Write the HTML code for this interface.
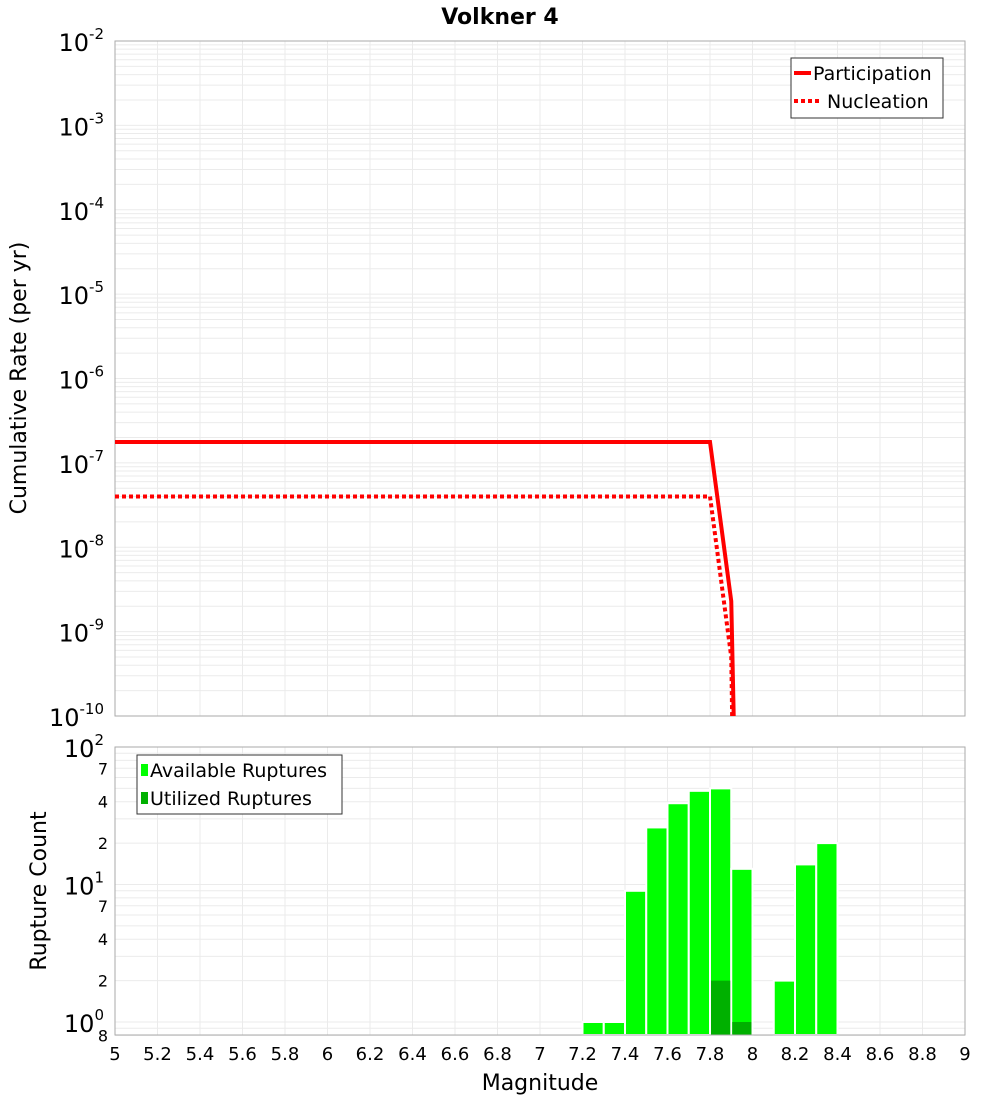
<!DOCTYPE html>
<html><head><meta charset="utf-8"><style>
body{margin:0;background:#fff;font-family:"Liberation Sans","DejaVu Sans",sans-serif}
svg text{font-family:"DejaVu Sans","Liberation Sans",sans-serif}
</style></head><body>
<svg id="c" width="1000" height="1100" viewBox="0 0 1000 1100" xmlns="http://www.w3.org/2000/svg">
<text x="500" y="24" text-anchor="middle" font-size="22" font-weight="bold">Volkner 4</text>
<g id="top"></g>
<g id="bot"></g>
<text transform="translate(26,378) rotate(-90)" text-anchor="middle" font-size="22">Cumulative Rate (per yr)</text>
<text transform="translate(46,891) rotate(-90)" text-anchor="middle" font-size="22">Rupture Count</text>
<text x="540" y="1090" text-anchor="middle" font-size="22">Magnitude</text>
</svg>
<script>
const partMags=[5,7.8,7.9,7.92];
const partRates=[1.77e-7,1.77e-7,2.3e-9,1e-12];
const nuclMags=[5,7.8,7.9,7.91];
const nuclRates=[4e-8,4e-8,5e-10,1e-12];
const binMags=[7.25,7.35,7.45,7.55,7.65,7.75,7.85,7.95,8.15,8.25,8.35];
const availCounts=[1,1,9,26,39,48,50,13,2,14,20];
const usedMags=[7.85,7.95];
const usedCounts=[2,1];
const xTicks=[5,5.2,5.4,5.6,5.8,6,6.2,6.4,6.6,6.8,7,7.2,7.4,7.6,7.8,8,8.2,8.4,8.6,8.8,9];

const NS="http://www.w3.org/2000/svg";
const X0=115,X1=965;
const xs=m=>X0+(m-5)/4*(X1-X0);
const T0=41,T1=716;
const yt=v=>{const l=Math.log10(Math.max(v,1e-11));return T0+(-2-l)/8*(T1-T0);};
const B0=747,B1=1035;
const dec=137.5;
const yb=v=>B0+(2-Math.log10(v))*dec;
function el(p,t,a){const e=document.createElementNS(NS,t);for(const k in a)e.setAttribute(k,a[k]);p.appendChild(e);return e;}
const topG=document.getElementById('top'),botG=document.getElementById('bot');
let g=el(topG,'g',{});


for(let e=-10;e<-2;e++)for(let k=1;k<10;k++){const y=yt(k*Math.pow(10,e));el(g,'line',{x1:X0,x2:X1,y1:y,y2:y,stroke:'#ebebeb','stroke-width':1});}
xTicks.forEach(m=>el(g,'line',{x1:xs(m),x2:xs(m),y1:T0,y2:T1,stroke:'#ebebeb'}));
let r=el(topG,'rect',{x:X0,y:T0,width:X1-X0,height:T1-T0,fill:'none',stroke:'#aaa'});


for(let e=-10;e<=-2;e++){const y=yt(Math.pow(10,e));
 const t=el(topG,'text',{x:104,y:y+10,'text-anchor':'end','font-size':24});
 
 
 t.innerHTML='10<tspan dy="-12" font-size="15">'+e+'</tspan>';}
let cp=el(topG,'clipPath',{id:'clt'});el(cp,'rect',{x:X0,y:T0,width:X1-X0,height:T1-T0});
const pts=(ms,vs)=>ms.map((m,i)=>xs(m)+','+yt(vs[i])).join(' ');
let pl=el(topG,'polyline',{points:pts(partMags,partRates),fill:'none',stroke:'#f00','stroke-width':4,'clip-path':'url(#clt)'});


let nl=el(topG,'polyline',{points:pts(nuclMags,nuclRates),fill:'none',stroke:'#f00','stroke-width':4,'stroke-dasharray':'4 3','clip-path':'url(#clt)'});


let lg=el(topG,'g',{});


el(lg,'rect',{x:791,y:58,width:152,height:60,fill:'#fff',stroke:'#333'});
el(lg,'line',{x1:794,x2:811,y1:73,y2:73,stroke:'#f00','stroke-width':4});
el(lg,'line',{x1:794,x2:822,y1:101,y2:101,stroke:'#f00','stroke-width':4,'stroke-dasharray':'4 3'});
let t1=el(lg,'text',{x:813,y:80,'font-size':19});t1.textContent='Participation';


let t2=el(lg,'text',{x:827,y:108,'font-size':19});t2.textContent='Nucleation';


g=el(botG,'g',{});


[0.8,0.9,1,2,3,4,5,6,7,8,9,10,20,30,40,50,60,70,80,90].forEach(v=>{const y=yb(v);el(g,'line',{x1:X0,x2:X1,y1:y,y2:y,stroke:'#ebebeb'});});
xTicks.forEach(m=>el(g,'line',{x1:xs(m),x2:xs(m),y1:B0,y2:B1,stroke:'#ebebeb'}));
const bw=xs(5.1)-xs(5);
binMags.forEach((m,i)=>{const b=el(botG,'rect',{x:xs(m)-bw/2,y:yb(availCounts[i]),width:bw,height:B1-yb(availCounts[i]),fill:'#00ff00',stroke:'#fff','stroke-width':2});
 
 });
usedMags.forEach((m,i)=>{const b=el(botG,'rect',{x:xs(m)-bw/2+1,y:yb(usedCounts[i]),width:bw-2,height:B1-yb(usedCounts[i]),fill:'#00b000'});
 
 });
r=el(botG,'rect',{x:X0,y:B0,width:X1-X0,height:B1-B0,fill:'none',stroke:'#aaa'});


[0,1,2].forEach(e=>{const t=el(botG,'text',{x:104,y:yb(Math.pow(10,e))+10,'text-anchor':'end','font-size':24});
 
 
 t.innerHTML='10<tspan dy="-12" font-size="15">'+e+'</tspan>';});
[[2,0],[4,0],[7,0],[2,1],[4,1],[7,1],[8,-1]].forEach(([k,e])=>{const t=el(botG,'text',{x:108,y:yb(k*Math.pow(10,e))+6,'text-anchor':'end','font-size':16});
 
 
 t.textContent=k;});
xTicks.forEach(m=>{const t=el(botG,'text',{x:xs(m),y:1060,'text-anchor':'middle','font-size':18});
 
 
 t.textContent=String(m);});
lg=el(botG,'g',{});


el(lg,'rect',{x:137,y:755,width:205,height:59,fill:'#fff',stroke:'#333'});
el(lg,'rect',{x:141,y:764,width:7,height:12,fill:'#00ff00'});
el(lg,'rect',{x:141,y:792,width:7,height:12,fill:'#00b000'});
t1=el(lg,'text',{x:150,y:777,'font-size':19});t1.textContent='Available Ruptures';


t2=el(lg,'text',{x:150,y:805,'font-size':19});t2.textContent='Utilized Ruptures';


</script>
</body></html>
